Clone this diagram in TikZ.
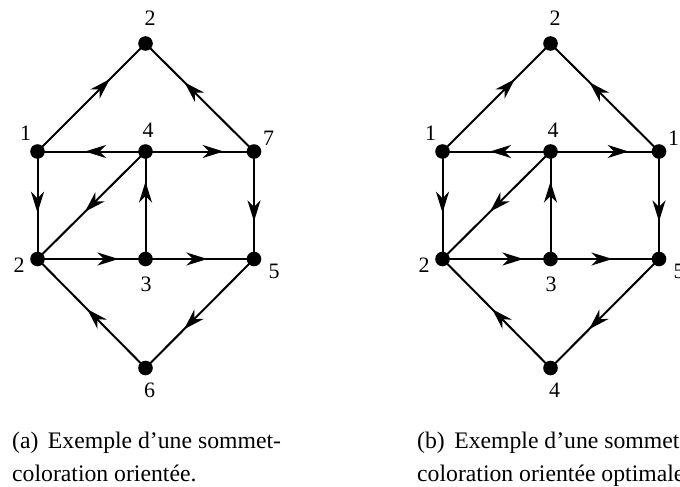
\documentclass[tikz,border=0pt]{standalone}
\usepackage{fontspec}
\setmainfont{Liberation Serif}
\usetikzlibrary{arrows.meta, decorations.markings}

\begin{document}
\begin{tikzpicture}[
    x=1pt, y=-1pt,
    vertex/.style={circle, fill=black, inner sep=0pt, minimum size=14.6pt},
    lbl/.style={inner sep=0pt, font=\fontsize{22}{22}\selectfont},
    capline/.style={inner sep=0pt, anchor=base west, font=\fontsize{23.7}{33}\selectfont},
    oriented/.style={line width=2pt, postaction={decorate},
                     decoration={markings, mark=at position #1 with
                       {\arrow{Stealth[length=21pt, width=13pt, inset=6.5pt]}}}}
  ]
    \useasboundingbox (0,0) rectangle (680,487);
    \clip (0,0) rectangle (680,487);

    % (a) sommet-coloration orientee
    \node[vertex] (atop) at (145.5,43.5) {};
    \node[vertex] (anw)  at (37.5,151.5)  {};
    \node[vertex] (an)   at (145.5,151.5) {};
    \node[vertex] (ane)  at (254,151.5)   {};
    \node[vertex] (asw)  at (37.5,259)    {};
    \node[vertex] (as)   at (145.5,259)   {};
    \node[vertex] (ase)  at (254,259)     {};
    \node[vertex] (abot) at (145.5,368)   {};

    \node[lbl] (latop) at ([shift={(4.5,-25)}]atop.center) {2};
    \node[lbl] (lanw)  at ([shift={(-12,-18)}]anw.center)  {1};
    \node[lbl] (lan)   at ([shift={(2.6,-21.5)}]an.center) {4};
    \node[lbl] (lane)  at ([shift={(14.5,-13.5)}]ane.center) {7};
    \node[lbl] (lasw)  at ([shift={(-18.5,6.5)}]asw.center) {2};
    \node[lbl] (las)   at ([shift={(0.5,25)}]as.center)    {3};
    \node[lbl] (lase)  at ([shift={(20,12)}]ase.center)    {5};
    \node[lbl] (labot) at ([shift={(4,22.5)}]abot.center)  {6};

    \draw[oriented=0.67] (anw.center) -- (atop.center);
    \draw[oriented=0.64] (ane.center) -- (atop.center);
    \draw[oriented=0.56] (an.center) -- (anw.center);
    \draw[oriented=0.72] (an.center) -- (ane.center);
    \draw[oriented=0.57] (anw.center) -- (asw.center);
    \draw[oriented=0.56] (an.center) -- (asw.center);
    \draw[oriented=0.72] (as.center) -- (an.center);
    \draw[oriented=0.65] (ane.center) -- (ase.center);
    \draw[oriented=0.75] (asw.center) -- (as.center);
    \draw[oriented=0.57] (as.center) -- (ase.center);
    \draw[oriented=0.54] (abot.center) -- (asw.center);
    \draw[oriented=0.645] (ase.center) -- (abot.center);

    \node[capline] (capa1) at (12,448) {(a)\hspace{0.4em}Exemple d’une sommet-};
    \node[capline] (capa2) at (12,481) {coloration orientée.};

    % (b) sommet-coloration orientee optimale
    \node[vertex] (btop) at (550.5,43.5) {};
    \node[vertex] (bnw)  at (442.5,151.5) {};
    \node[vertex] (bn)   at (550.5,151.5) {};
    \node[vertex] (bne)  at (659,151.5)   {};
    \node[vertex] (bsw)  at (442.5,259)   {};
    \node[vertex] (bs)   at (550.5,259)   {};
    \node[vertex] (bse)  at (659,259)     {};
    \node[vertex] (bbot) at (550.5,368)   {};

    \node[lbl] (lbtop) at ([shift={(4.5,-25)}]btop.center) {2};
    \node[lbl] (lbnw)  at ([shift={(-12,-18)}]bnw.center)  {1};
    \node[lbl] (lbn)   at ([shift={(2.6,-21.5)}]bn.center) {4};
    \node[lbl] (lbne)  at ([shift={(14.5,-13.5)}]bne.center) {1};
    \node[lbl] (lbsw)  at ([shift={(-18.5,6.5)}]bsw.center) {2};
    \node[lbl] (lbs)   at ([shift={(0.5,25)}]bs.center)    {3};
    \node[lbl] (lbse)  at ([shift={(20,12)}]bse.center)    {5};
    \node[lbl] (lbbot) at ([shift={(4,22.5)}]bbot.center)  {4};

    \draw[oriented=0.67] (bnw.center) -- (btop.center);
    \draw[oriented=0.64] (bne.center) -- (btop.center);
    \draw[oriented=0.56] (bn.center) -- (bnw.center);
    \draw[oriented=0.72] (bn.center) -- (bne.center);
    \draw[oriented=0.57] (bnw.center) -- (bsw.center);
    \draw[oriented=0.56] (bn.center) -- (bsw.center);
    \draw[oriented=0.72] (bs.center) -- (bn.center);
    \draw[oriented=0.65] (bne.center) -- (bse.center);
    \draw[oriented=0.75] (bsw.center) -- (bs.center);
    \draw[oriented=0.57] (bs.center) -- (bse.center);
    \draw[oriented=0.54] (bbot.center) -- (bsw.center);
    \draw[oriented=0.645] (bse.center) -- (bbot.center);

    \node[capline] (capb1) at (417,448) {(b)\hspace{0.4em}Exemple d’une sommet-};
    \node[capline] (capb2) at (417,481) {coloration orientée optimale.};
  \end{tikzpicture}
\end{document}
